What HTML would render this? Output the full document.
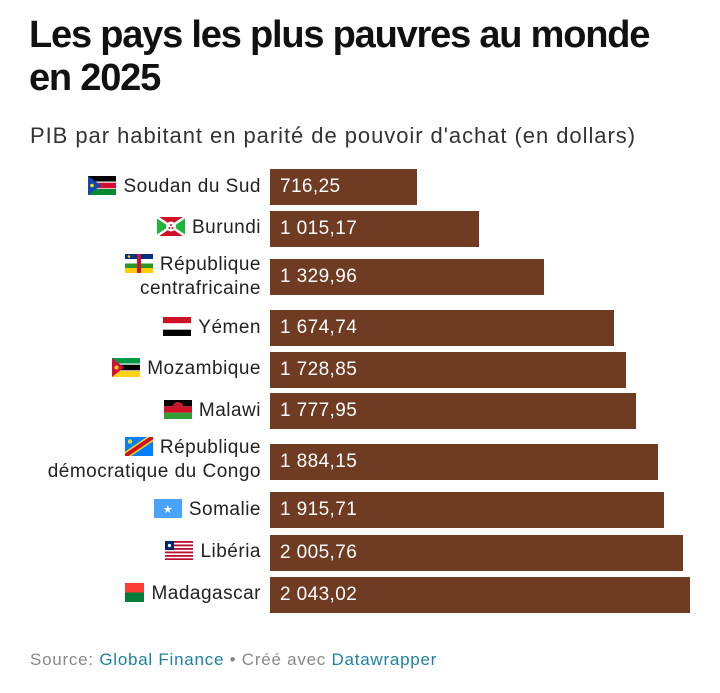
<!DOCTYPE html>
<html><head><meta charset="utf-8"><style>
body{margin:0;width:720px;height:693px;background:#fff;font-family:"Liberation Sans",sans-serif;color:#222;position:relative;overflow:hidden}
.t{position:absolute;left:29px;top:14px;font-size:38px;font-weight:bold;line-height:43px;letter-spacing:-1.2px;color:#111}
.s{position:absolute;left:30px;top:123px;font-size:22px;letter-spacing:0.95px;color:#333}
.lab{position:absolute;left:0;width:261px;text-align:right;font-size:19px;line-height:24px;letter-spacing:0.5px;color:#222}
.lab svg{vertical-align:-3px;margin-right:7px}
.bar{position:absolute;left:270px;background:#6f3b22;color:#fff;font-size:19px;letter-spacing:0.4px;height:36px;line-height:36px;padding-left:10px;box-sizing:border-box}
.f{position:absolute;left:30px;top:650px;font-size:17px;letter-spacing:0.75px;color:#888}
.f a{color:#1d81a2;text-decoration:none}
</style></head><body>
<div class="t">Les pays les plus pauvres au monde<br>en 2025</div>
<div class="s">PIB par habitant en parité de pouvoir d'achat (en dollars)</div>

<div class="lab" style="top:175px"><svg width="28" height="19"><rect width="28" height="6" fill="#000"/><rect y="6" width="28" height="7" fill="#d21034"/><rect y="5.5" width="28" height="1.2" fill="#fff"/><rect y="12.3" width="28" height="1.2" fill="#fff"/><rect y="13" width="28" height="6" fill="#078930"/><polygon points="0,0 13,9.5 0,19" fill="#0f47af"/><circle cx="4" cy="9.5" r="1.8" fill="#fcdd09"/></svg>Soudan du Sud</div>
<div class="bar" style="top:169px;width:147px">716,25</div>

<div class="lab" style="top:216px"><svg width="28" height="19"><rect width="28" height="19" fill="#ce1126"/><polygon points="0,0 14,9.5 0,19" fill="#1eb53a"/><polygon points="28,0 14,9.5 28,19" fill="#1eb53a"/><path d="M0 0L28 19M28 0L0 19" stroke="#fff" stroke-width="2.5"/><circle cx="14" cy="9.5" r="5" fill="#fff"/><circle cx="14" cy="8" r="1" fill="#ce1126"/><circle cx="12.5" cy="11" r="1" fill="#ce1126"/><circle cx="15.5" cy="11" r="1" fill="#ce1126"/></svg>Burundi</div>
<div class="bar" style="top:211px;width:209px">1 015,17</div>

<div class="lab" style="top:253px"><svg width="28" height="19"><rect width="28" height="5" fill="#003082"/><rect y="5" width="28" height="4.5" fill="#fff"/><rect y="9.5" width="28" height="4.5" fill="#289728"/><rect y="14" width="28" height="5" fill="#ffce00"/><rect x="12" width="4" height="19" fill="#d21034"/><circle cx="4" cy="2.5" r="1.3" fill="#ffce00"/></svg>République<br>centrafricaine</div>
<div class="bar" style="top:259px;width:274px">1 329,96</div>

<div class="lab" style="top:316px"><svg width="28" height="19"><rect width="28" height="6.3" fill="#ce1126"/><rect y="6.3" width="28" height="6.4" fill="#fff"/><rect y="12.7" width="28" height="6.3" fill="#000"/></svg>Yémen</div>
<div class="bar" style="top:310px;width:344px">1 674,74</div>

<div class="lab" style="top:357px"><svg width="28" height="19"><rect width="28" height="6" fill="#009a44"/><rect y="6" width="28" height="7" fill="#000"/><rect y="5.5" width="28" height="1.2" fill="#fff"/><rect y="12.3" width="28" height="1.2" fill="#fff"/><rect y="13" width="28" height="6" fill="#fcd116"/><polygon points="0,0 12,9.5 0,19" fill="#d21034"/><circle cx="4.5" cy="9.5" r="2" fill="#fcd116"/></svg>Mozambique</div>
<div class="bar" style="top:352px;width:356px">1 728,85</div>

<div class="lab" style="top:399px"><svg width="28" height="19"><rect width="28" height="6.3" fill="#000"/><rect y="6.3" width="28" height="6.4" fill="#ce1126"/><rect y="12.7" width="28" height="6.3" fill="#339e35"/><path d="M9 6 A5 4 0 0 1 19 6Z" fill="#ce1126"/></svg>Malawi</div>
<div class="bar" style="top:393px;width:366px">1 777,95</div>

<div class="lab" style="top:436px"><svg width="28" height="19"><rect width="28" height="19" fill="#007fff"/><path d="M0 19L28 0" stroke="#f7d618" stroke-width="7"/><path d="M0 19L28 0" stroke="#ce1021" stroke-width="4"/><circle cx="5" cy="4.5" r="2.2" fill="#f7d618"/></svg>République<br>démocratique du Congo</div>
<div class="bar" style="top:444px;width:388px">1 884,15</div>

<div class="lab" style="top:498px"><svg width="28" height="19"><rect width="28" height="19" fill="#4aa3ff"/><text x="14" y="14" font-size="11" fill="#fff" text-anchor="middle">★</text></svg>Somalie</div>
<div class="bar" style="top:492px;width:394px">1 915,71</div>

<div class="lab" style="top:540px"><svg width="28" height="19"><rect width="28" height="19" fill="#fff"/><g fill="#bf0a30"><rect y="0" width="28" height="1.8"/><rect y="3.5" width="28" height="1.8"/><rect y="7" width="28" height="1.8"/><rect y="10.5" width="28" height="1.8"/><rect y="14" width="28" height="1.8"/><rect y="17.3" width="28" height="1.7"/></g><rect width="9" height="9" fill="#002868"/><circle cx="4.5" cy="4.5" r="1.6" fill="#fff"/></svg>Libéria</div>
<div class="bar" style="top:535px;width:413px">2 005,76</div>

<div class="lab" style="top:582px"><svg width="28" height="19"><rect width="28" height="19" fill="#fff"/><rect x="9" width="19" height="9.5" fill="#fc3d32"/><rect x="9" y="9.5" width="19" height="9.5" fill="#007e3a"/></svg>Madagascar</div>
<div class="bar" style="top:577px;width:420px">2 043,02</div>

<div class="f">Source: <a>Global Finance</a> • Créé avec <a>Datawrapper</a></div>
</body></html>
